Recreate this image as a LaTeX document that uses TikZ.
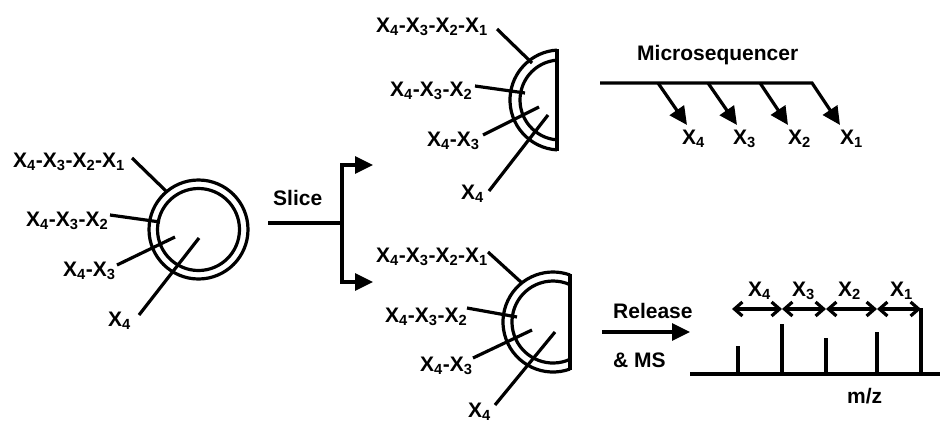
\documentclass[tikz,border=0pt]{standalone}
\usepackage{fontspec}
\setmainfont{Liberation Sans}
\usetikzlibrary{arrows.meta}
\newcommand{\xs}[1]{X\textsubscript{#1}}
\tikzset{
  lbl/.style={inner sep=0pt, anchor=north west, font=\fontsize{21}{25}\selectfont\bfseries},
  ln/.style={line width=3.2pt, line join=miter},
  bigtip/.style={-{Triangle[length=18pt,width=17pt]}},
  barbs/.style={{Straight Barb[length=8pt,width=14pt]}-{Straight Barb[length=8pt,width=14pt]}},
}
\begin{document}
\begin{tikzpicture}[x=1pt,y=-1pt]
\useasboundingbox (0,0) rectangle (940,426);

% ---------- left full circle ----------
\coordinate (cL) at (198.5,229.5);
\draw[ln] (cL) circle[radius=49.5];
\draw[ln] (cL) circle[radius=41];
\node[lbl] (l1) at (13,153) {\xs4-\xs3-\xs2-\xs1};
\node[lbl] (l2) at (26,212) {\xs4-\xs3-\xs2};
\node[lbl] (l3) at (63,262) {\xs4-\xs3};
\node[lbl] (l4) at (108,312) {\xs4};
\coordinate (l1s) at (132,158); \coordinate (l1e) at (167,192);
\coordinate (l2s) at (110,215); \coordinate (l2e) at (160,222);
\coordinate (l3s) at (117,265); \coordinate (l3e) at (175,237);
\coordinate (l4s) at (139,315); \coordinate (l4e) at (199,238);
\draw[ln] (l1s) -- (l1e);
\draw[ln] (l2s) -- (l2e);
\draw[ln] (l3s) -- (l3e);
\draw[ln] (l4s) -- (l4e);

% ---------- slice branch ----------
\node[lbl] (slice) at (273,190) {Slice};
\coordinate (sl0) at (268,223);
\coordinate (jn) at (342,223);
\coordinate (upT) at (373,165);
\coordinate (dnT) at (373,282);
\draw[ln] (sl0) -- (jn);
\draw[ln,bigtip] (jn) |- (upT);
\draw[ln,bigtip] (jn) |- (dnT);

% ---------- top half circle ----------
\coordinate (cT) at (560,100);
\draw[ln] ([shift={(93.4:50)}]cT) arc[start angle=93.4,end angle=266.6,radius=50];
\draw[ln] ([shift={(94.3:40)}]cT) arc[start angle=94.3,end angle=265.7,radius=40];
\coordinate (tTop) at (557,49); \coordinate (tBot) at (557,151);
\draw[ln] (tTop) -- (tBot);
\node[lbl] (t1) at (376,18) {\xs4-\xs3-\xs2-\xs1};
\node[lbl] (t2) at (390,82) {\xs4-\xs3-\xs2};
\node[lbl] (t3) at (427,132) {\xs4-\xs3};
\node[lbl] (t4) at (461,185) {\xs4};
\coordinate (t1s) at (497,29); \coordinate (t1e) at (532,63);
\coordinate (t2s) at (475,86); \coordinate (t2e) at (525,93);
\coordinate (t3s) at (483,135); \coordinate (t3e) at (539,107);
\coordinate (t4s) at (489,191); \coordinate (t4e) at (548,115);
\draw[ln] (t1s) -- (t1e);
\draw[ln] (t2s) -- (t2e);
\draw[ln] (t3s) -- (t3e);
\draw[ln] (t4s) -- (t4e);

% ---------- microsequencer ----------
\node[lbl] (micro) at (637,45) {Microsequencer};
\coordinate (mL) at (600,83);
\coordinate (m4) at (658,83); \coordinate (m3) at (708,83);
\coordinate (m2) at (760,83); \coordinate (mR) at (812,83);
\coordinate (a4) at (687,125); \coordinate (a3) at (737,125);
\coordinate (a2) at (788,125); \coordinate (a1) at (840,125);
\draw[ln,bigtip] (mL) -- (mR) -- (a1);
\draw[ln,bigtip] (m4) -- (a4);
\draw[ln,bigtip] (m3) -- (a3);
\draw[ln,bigtip] (m2) -- (a2);
\node[lbl] (mx4) at (682,130) {\xs4};
\node[lbl] (mx3) at (733,130) {\xs3};
\node[lbl] (mx2) at (788,130) {\xs2};
\node[lbl] (mx1) at (840,130) {\xs1};

% ---------- bottom half circle ----------
\coordinate (cB) at (553,322);
\draw[ln] ([shift={(70.1:50)}]cB) arc[start angle=70.1,end angle=289.9,radius=50];
\draw[ln] ([shift={(65.5:41)}]cB) arc[start angle=65.5,end angle=294.5,radius=41];
\coordinate (bTop) at (570,274); \coordinate (bBot) at (570,370);
\draw[ln] (bTop) -- (bBot);
\node[lbl] (b1) at (376,248) {\xs4-\xs3-\xs2-\xs1};
\node[lbl] (b2) at (385,308) {\xs4-\xs3-\xs2};
\node[lbl] (b3) at (420,357) {\xs4-\xs3};
\node[lbl] (b4) at (468,403) {\xs4};
\coordinate (b1s) at (488,252); \coordinate (b1e) at (522,283);
\coordinate (b2s) at (467,308); \coordinate (b2e) at (517,317);
\coordinate (b3s) at (473,358); \coordinate (b3e) at (532,330);
\coordinate (b4s) at (495,405); \coordinate (b4e) at (555,332);
\draw[ln] (b1s) -- (b1e);
\draw[ln] (b2s) -- (b2e);
\draw[ln] (b3s) -- (b3e);
\draw[ln] (b4s) -- (b4e);

% ---------- release & MS ----------
\node[lbl] (rel) at (613,303) {Release};
\node[lbl] (ms) at (613,353) {\& MS};
\coordinate (rA) at (602,332); \coordinate (rB) at (690,332);
\draw[ln,bigtip] (rA) -- (rB);

% ---------- spectrum ----------
\coordinate (base0) at (690,374); \coordinate (base1) at (940,374);
\draw[ln] (base0) -- (base1);
\coordinate (p1b) at (738,374); \coordinate (p1t) at (738,346);
\coordinate (p2b) at (782,374); \coordinate (p2t) at (782,324);
\coordinate (p3b) at (826,374); \coordinate (p3t) at (826,338);
\coordinate (p4b) at (877,374); \coordinate (p4t) at (877,332);
\coordinate (p5b) at (921,374); \coordinate (p5t) at (921,308);
\draw[ln] (p1b) -- (p1t);
\draw[ln] (p2b) -- (p2t);
\draw[ln] (p3b) -- (p3t);
\draw[ln] (p4b) -- (p4t);
\draw[ln] (p5b) -- (p5t);
\coordinate (d0) at (732,309); \coordinate (d1) at (782,309);
\coordinate (d2) at (826,309); \coordinate (d3) at (877,309);
\coordinate (d4) at (921,309);
\draw[ln,barbs] (d0) -- (d1);
\draw[ln,barbs] (d1) -- (d2);
\draw[ln,barbs] (d2) -- (d3);
\draw[ln,barbs] (d3) -- (d4);
\node[lbl] (sx4) at (748,282) {\xs4};
\node[lbl] (sx3) at (792,282) {\xs3};
\node[lbl] (sx2) at (838,282) {\xs2};
\node[lbl] (sx1) at (890,282) {\xs1};
\node[lbl] (mz) at (847,388) {m/z};
\end{tikzpicture}
\end{document}
